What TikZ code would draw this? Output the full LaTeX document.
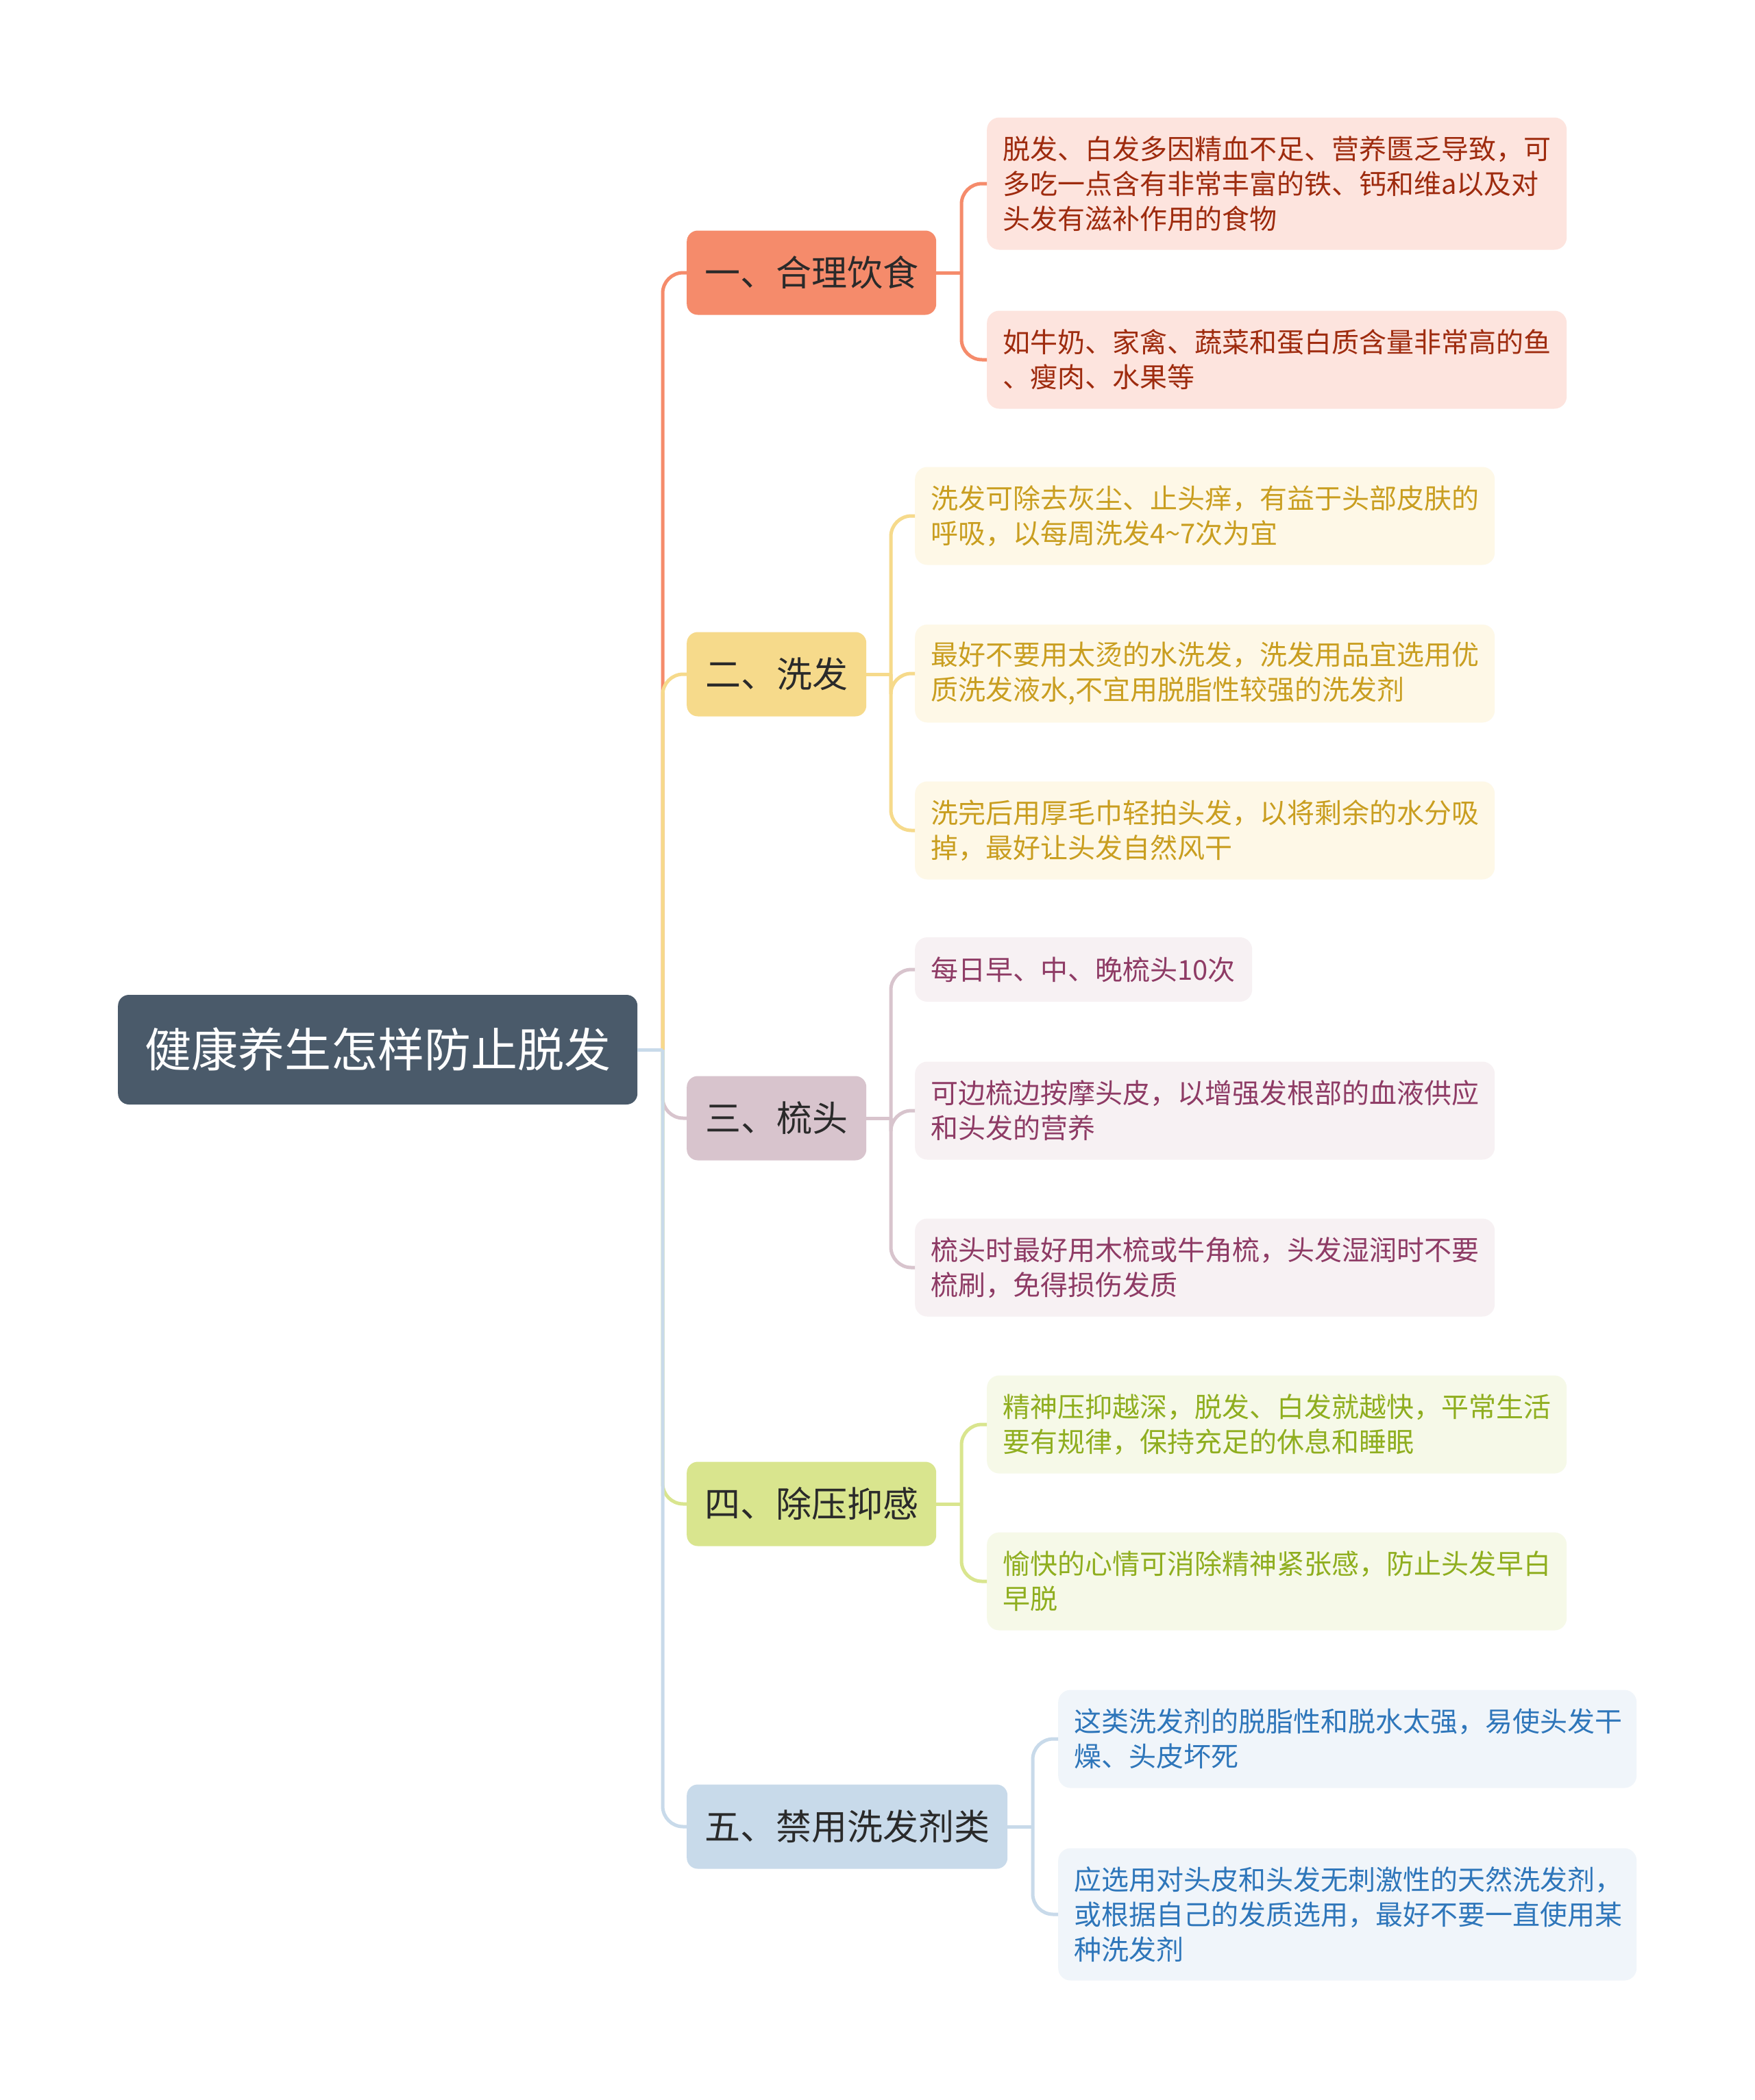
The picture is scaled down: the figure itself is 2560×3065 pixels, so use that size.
\documentclass[tikz,border=0pt]{standalone}
\usepackage{fontspec}
\setmainfont{Noto Sans CJK SC}
\begin{document}
\begin{tikzpicture}[x=1pt,y=-1pt]
\definecolor{rootc}{HTML}{4A5A6A}
\definecolor{ca}{HTML}{F58B6B}\definecolor{la}{HTML}{FDE4DE}\definecolor{ta}{HTML}{9E2B0E}
\definecolor{cb}{HTML}{F6DA8B}\definecolor{lb}{HTML}{FEF8E7}\definecolor{tb}{HTML}{C99E20}
\definecolor{cc}{HTML}{D8C4CD}\definecolor{lc}{HTML}{F7F1F3}\definecolor{tc}{HTML}{8E3B65}
\definecolor{cd}{HTML}{D9E58E}\definecolor{ld}{HTML}{F6F9E8}\definecolor{td}{HTML}{8FAE1F}
\definecolor{ce}{HTML}{C8DAEA}\definecolor{le}{HTML}{F0F5FA}\definecolor{te}{HTML}{2E76BA}
\definecolor{btext}{HTML}{2A2A2A}
\tikzset{
  rootbox/.style={fill=rootc, rounded corners=16pt, text=white, anchor=west, minimum width=758pt, minimum height=160pt, inner sep=0pt, font=\fontsize{68}{80}\selectfont},
  branchbox/.style={rounded corners=16pt, text=btext, anchor=west, minimum height=123pt, inner xsep=26pt, inner ysep=0pt, font=\fontsize{52}{62}\selectfont},
  leafbox/.style={rounded corners=18pt, anchor=west, inner xsep=23pt, inner ysep=0pt, align=left, font=\fontsize{40}{51}\selectfont},
  conn/.style={line width=5pt},
  elbowline/.style={line width=5pt, rounded corners=30pt},
}
\useasboundingbox (0,0) rectangle (2560,3065);
\fill[white] (0,0) rectangle (2560,3065);

% root
\node[rootbox] (root) at (172,1532) {健康养生怎样防止脱发};
% branches
\node[branchbox, fill=ca, minimum width=364pt] (b1) at (1002,398) {一、合理饮食};
\node[branchbox, fill=cb, minimum width=262pt] (b2) at (1002,984) {二、洗发};
\node[branchbox, fill=cc, minimum width=262pt] (b3) at (1002,1632) {三、梳头};
\node[branchbox, fill=cd, minimum width=364pt] (b4) at (1002,2195) {四、除压抑感};
\node[branchbox, fill=ce, minimum width=467pt] (b5) at (1002,2666) {五、禁用洗发剂类};

% leaves
\node[leafbox, fill=la, text=ta, text width=800pt, minimum height=193pt] (l1a) at (1440,268) {脱发、白发多因精血不足、营养匮乏导致，可\\多吃一点含有非常丰富的铁、钙和维a以及对\\头发有滋补作用的食物};
\node[leafbox, fill=la, text=ta, text width=800pt, minimum height=143pt] (l1b) at (1440,525) {如牛奶、家禽、蔬菜和蛋白质含量非常高的鱼\\、瘦肉、水果等};

\node[leafbox, fill=lb, text=tb, text width=800pt, minimum height=143pt] (l2a) at (1335,753) {洗发可除去灰尘、止头痒，有益于头部皮肤的\\呼吸，以每周洗发4\textasciitilde 7次为宜};
\node[leafbox, fill=lb, text=tb, text width=800pt, minimum height=143pt] (l2b) at (1335,983) {最好不要用太烫的水洗发，洗发用品宜选用优\\质洗发液水,不宜用脱脂性较强的洗发剂};
\node[leafbox, fill=lb, text=tb, text width=800pt, minimum height=143pt] (l2c) at (1335,1212) {洗完后用厚毛巾轻拍头发，以将剩余的水分吸\\掉，最好让头发自然风干};

\node[leafbox, fill=lc, text=tc, text width=446pt, minimum height=94pt] (l3a) at (1335,1415) {每日早、中、晚梳头10次};
\node[leafbox, fill=lc, text=tc, text width=800pt, minimum height=143pt] (l3b) at (1335,1621) {可边梳边按摩头皮，以增强发根部的血液供应\\和头发的营养};
\node[leafbox, fill=lc, text=tc, text width=800pt, minimum height=143pt] (l3c) at (1335,1850) {梳头时最好用木梳或牛角梳，头发湿润时不要\\梳刷，免得损伤发质};

\node[leafbox, fill=ld, text=td, text width=800pt, minimum height=143pt] (l4a) at (1440,2079) {精神压抑越深，脱发、白发就越快，平常生活\\要有规律，保持充足的休息和睡眠};
\node[leafbox, fill=ld, text=td, text width=800pt, minimum height=143pt] (l4b) at (1440,2308) {愉快的心情可消除精神紧张感，防止头发早白\\早脱};

\node[leafbox, fill=le, text=te, text width=798pt, minimum height=143pt] (l5a) at (1544,2538) {这类洗发剂的脱脂性和脱水太强，易使头发干\\燥、头皮坏死};
\node[leafbox, fill=le, text=te, text width=798pt, minimum height=193pt] (l5b) at (1544,2794) {应选用对头皮和头发无刺激性的天然洗发剂，\\或根据自己的发质选用，最好不要一直使用某\\种洗发剂};

% junction coordinates
\coordinate (J) at (967,1532);
\coordinate (K1) at (1403,398);
\coordinate (K2) at (1300,984);
\coordinate (K3) at (1300,1632);
\coordinate (K4) at (1403,2195);
\coordinate (K5) at (1507,2666);

% trunk connectors
\draw[elbowline, ca] (J) |- (b1.west);
\draw[elbowline, cb] (J) |- (b2.west);
\draw[elbowline, cc] (J) |- (b3.west);
\draw[elbowline, cd] (J) |- (b4.west);
\draw[elbowline, ce] (J) |- (b5.west);
\draw[conn, ce] (root.east) -- (J);

% leaf connectors
\draw[conn, ca] (b1.east) -- (K1);
\draw[elbowline, ca] (K1) |- (l1a.west);
\draw[elbowline, ca] (K1) |- (l1b.west);

\draw[conn, cb] (b2.east) -- (K2);
\draw[elbowline, cb] (K2) |- (l2a.west);
\draw[elbowline, cb] (K2) |- (l2b.west);
\draw[elbowline, cb] (K2) |- (l2c.west);

\draw[conn, cc] (b3.east) -- (K3);
\draw[elbowline, cc] (K3) |- (l3a.west);
\draw[elbowline, cc] (K3) |- (l3b.west);
\draw[elbowline, cc] (K3) |- (l3c.west);

\draw[conn, cd] (b4.east) -- (K4);
\draw[elbowline, cd] (K4) |- (l4a.west);
\draw[elbowline, cd] (K4) |- (l4b.west);

\draw[conn, ce] (b5.east) -- (K5);
\draw[elbowline, ce] (K5) |- (l5a.west);
\draw[elbowline, ce] (K5) |- (l5b.west);
\end{tikzpicture}
\end{document}
